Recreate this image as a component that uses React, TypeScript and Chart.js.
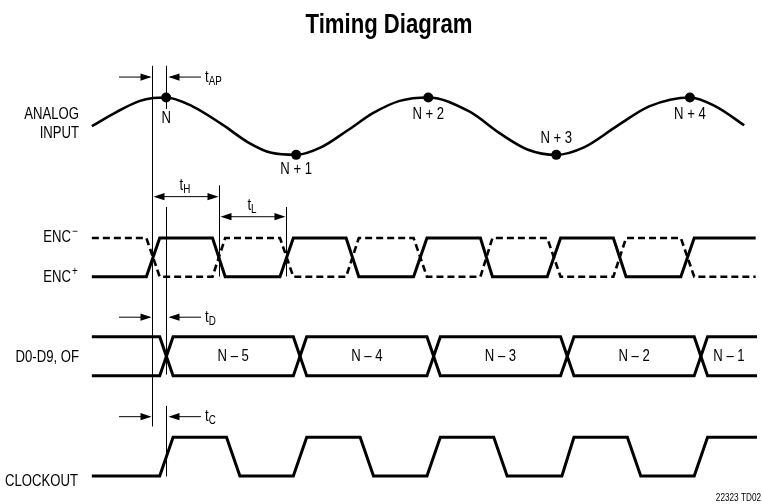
import React, { useEffect, useRef } from "react";
import { Chart, registerables } from "chart.js";

Chart.register(...registerables);

// ---- DATA (time axis in tenths of one ENC period; ENC+ crosses mid-level at t = 0) ----
const analogTimes = [-4.58, -2.71, -0.98, 0, 0.98, 2.95, 5.17, 7.14, 8.86, 10.71, 12.56, 14.52, 16.49, 18.46, 20.6, 23.63, 26.05, 28.06, 30.18, 32.25, 34.71, 37.13, 40.18, 42.1, 44.24];
const analogValues = [0, 0.5, 0.88, 0.98, 1, 0.69, 0.06, -0.57, -0.93, -1, -0.74, -0.16, 0.46, 0.88, 1, 0.52, -0.28, -0.82, -1, -0.74, 0, 0.69, 1, 0.69, 0.03];

const sampleTimes = [0.98, 10.71, 20.6, 30.18, 40.18];
const sampleValues = [1, -1, 1, -1, 1];
const sampleLabels = ["N", "N + 1", "N + 2", "N + 3", "N + 4"];

const encTimes = [-4.58, -0.5, 0.5, 4.45, 5.4, 9.5, 10.5, 14.45, 15.4, 19.5, 20.5, 24.5, 25.4, 29.5, 30.5, 34.45, 35.4, 39.5, 40.5, 45.1];
const encPlusLevels = [0, 0, 1, 1, 0, 0, 1, 1, 0, 0, 1, 1, 0, 0, 1, 1, 0, 0, 1, 1];
const encMinusLevels = [1, 1, 0, 0, 1, 1, 0, 0, 1, 1, 0, 0, 1, 1, 0, 0, 1, 1, 0, 0];

const busStartTime = -4.58;
const busEndTime = 45.2;
const busCrossTimes = [1.0, 11.0, 21.0, 31.0, 41.0];
const busTransition = 0.5;
const busWords = ["N – 5", "N – 4", "N – 3", "N – 2", "N – 1"];

const clkTimes = [-4.58, 0.5, 1.5, 5.5, 6.5, 10.5, 11.5, 15.5, 16.5, 20.5, 21.5, 25.5, 26.5, 30.6, 31.5, 35.5, 36.5, 40.5, 41.5, 45.2];
const clkLevels = [0, 0, 1, 1, 0, 0, 1, 1, 0, 0, 1, 1, 0, 0, 1, 1, 0, 0, 1, 1];

const laneNames = ["ANALOG\nINPUT", "ENC", "D0-D9, OF", "CLOCKOUT"];

// reference instants (same time units)
const tSampleEdge = -0.07;
const tApertureEnd = 0.98;
const tHighEnd = 4.91;
const tLowEnd = 9.93;

const W = 762;
const H = 504;
const PX_PER_UNIT = 13.54;
const ORIGIN_PX = 150;
const FONT = '"Liberation Sans", Arial, sans-serif';
const NARROW = 0.82;

function lane(loVal: number, loPx: number, hiVal: number, hiPx: number) {
  const s = (loPx - hiPx) / (hiVal - loVal);
  const max = hiVal + hiPx / s;
  const min = max - H / s;
  return { min, max };
}

function pts(xs: number[], ys: number[]) {
  return xs.map((x, i) => ({ x, y: ys[i] }));
}

function busEdge(level: number) {
  const out = [{ x: busStartTime, y: level }];
  busCrossTimes.forEach((c) => {
    out.push({ x: c - busTransition, y: level });
    out.push({ x: c, y: 0.5 });
    out.push({ x: c + busTransition, y: level });
  });
  out.push({ x: busEndTime, y: level });
  return out;
}

// condensed text: Liberation Sans squeezed horizontally
function txt(
  ctx: CanvasRenderingContext2D,
  s: string,
  x: number,
  y: number,
  size: number,
  align: CanvasTextAlign = "left",
  baseline: CanvasTextBaseline = "alphabetic",
  bold = false
) {
  ctx.save();
  ctx.font = `${bold ? "bold " : ""}${size}px ${FONT}`;
  ctx.textAlign = align;
  ctx.textBaseline = baseline;
  ctx.translate(x, y);
  ctx.scale(NARROW, 1);
  ctx.fillText(s, 0, 0);
  ctx.restore();
}
function txtW(ctx: CanvasRenderingContext2D, s: string, size: number) {
  ctx.save();
  ctx.font = `${size}px ${FONT}`;
  const w = ctx.measureText(s).width * NARROW;
  ctx.restore();
  return w;
}

const decorPlugin = {
  id: "timingDecor",
  afterDatasetsDraw(chart: any) {
    const ctx: CanvasRenderingContext2D = chart.ctx;
    const xs = chart.scales.x;
    const yf = chart.scales.yF;
    const ya = chart.scales.yA;
    const yd = chart.scales.yD;
    const X = (t: number) => xs.getPixelForValue(t);
    const Y = (p: number) => yf.getPixelForValue(p);
    ctx.save();
    ctx.fillStyle = "#000";
    ctx.strokeStyle = "#000";

    // title
    txt(ctx, "Timing Diagram", 389, 33, 27, "center", "alphabetic", true);

    // thin reference lines
    ctx.lineWidth = 1;
    const vline = (t: number, a: number, b: number) => {
      const x = Math.round(X(t)) + 0.5;
      ctx.beginPath();
      ctx.moveTo(x, Y(a));
      ctx.lineTo(x, Y(b));
      ctx.stroke();
    };
    vline(tSampleEdge, 62, 430);
    vline(tApertureEnd, 62, 106);
    vline(tApertureEnd, 206, 377);
    vline(tApertureEnd, 409, 481);
    vline(tHighEnd, 184, 277);
    vline(tLowEnd, 206, 277);

    const head = (x: number, y: number, dir: number) => {
      ctx.beginPath();
      ctx.moveTo(x, y);
      ctx.lineTo(x - dir * 11, y - 3.6);
      ctx.lineTo(x - dir * 11, y + 3.6);
      ctx.closePath();
      ctx.fill();
    };
    const hline = (x1: number, x2: number, y: number) => {
      ctx.beginPath();
      ctx.moveTo(x1, y + 0.5);
      ctx.lineTo(x2, y + 0.5);
      ctx.stroke();
    };
    const tLabel = (x: number, y: number, sub: string, align: "left" | "center") => {
      const wt = txtW(ctx, "t", 16);
      const ws = txtW(ctx, sub, 12);
      const x0 = align === "left" ? x : x - (wt + ws) / 2;
      txt(ctx, "t", x0, y, 16);
      txt(ctx, sub, x0 + wt, y + 3, 12);
    };

    // delays pointing inward (tAP, tD, tC)
    const delay = (yPx: number, sub: string) => {
      const xa = Math.round(X(tSampleEdge));
      const xb = Math.round(X(tApertureEnd)) + 1;
      const y = Y(yPx);
      hline(xa - 33, xa - 2, y);
      head(xa - 0.5, y + 0.5, 1);
      hline(xb + 3, xb + 34, y);
      head(xb + 1.5, y + 0.5, -1);
      tLabel(xb + 38, y + 5, sub, "left");
    };
    delay(73, "AP");
    delay(318, "D");
    delay(419.5, "C");

    // widths (tH, tL)
    const span = (t1: number, t2: number, yPx: number, sub: string) => {
      const x1 = Math.round(X(t1)) + 1.5;
      const x2 = Math.round(X(t2)) - 0.5;
      const y = Y(yPx);
      hline(x1 + 5, x2 - 5, y);
      head(x1, y + 0.5, -1);
      head(x2, y + 0.5, 1);
      tLabel((x1 + x2) / 2 - 1, y - 6, sub, "center");
    };
    span(tSampleEdge, tHighEnd, 195, "H");
    span(tHighEnd, tLowEnd, 215.5, "L");

    // sample labels
    const labelOffsets = [21, 14.5, 17.5, -16.5, 17.5];
    sampleTimes.forEach((t, i) => {
      txt(ctx, sampleLabels[i], X(t), ya.getPixelForValue(sampleValues[i]) + labelOffsets[i], 16, "center", "middle");
    });

    // bus words
    const mid = yd.getPixelForValue(0.5);
    busWords.forEach((w, i) => {
      const a = busCrossTimes[i];
      const b = i + 1 < busCrossTimes.length ? busCrossTimes[i + 1] : busEndTime;
      txt(ctx, w, X((a + b) / 2), mid + 0.5, 16, "center", "middle");
    });

    // lane names
    const analogLines = laneNames[0].split("\n");
    txt(ctx, analogLines[0], 79, 115, 16, "right", "middle");
    txt(ctx, analogLines[1], 79, 133.5, 16, "right", "middle");
    txt(ctx, laneNames[2], 79, 358, 16, "right", "middle");
    txt(ctx, laneNames[3], 78, 481.5, 16, "right", "middle");
    txt(ctx, laneNames[1], 71, 238, 16, "right", "middle");
    txt(ctx, laneNames[1], 71, 278, 16, "right", "middle");
    txt(ctx, "−", 72, 232, 12, "left", "middle");
    txt(ctx, "+", 72, 272, 12, "left", "middle");

    // figure id
    txt(ctx, "22323 TD02", 761, 501, 10, "right");
    ctx.restore();
  },
};

export default function App() {
  const ref = useRef<HTMLCanvasElement | null>(null);
  useEffect(() => {
    if (!ref.current) return;
    const lineBase = {
      type: "line" as const,
      borderColor: "#000",
      borderWidth: 3,
      pointRadius: 0,
      tension: 0,
      fill: false,
      clip: false as any,
      borderJoinStyle: "miter" as const,
      borderCapStyle: "butt" as const,
    };
    const chart = new Chart(ref.current, {
      type: "line",
      data: {
        datasets: [
          { ...lineBase, data: pts(analogTimes, analogValues), yAxisID: "yA", borderWidth: 2.6, cubicInterpolationMode: "monotone", borderJoinStyle: "round" },
          { ...lineBase, type: "scatter" as any, data: pts(sampleTimes, sampleValues), yAxisID: "yA", showLine: false, pointRadius: 5, pointBackgroundColor: "#000", pointBorderWidth: 0 },
          { ...lineBase, data: pts(encTimes, encMinusLevels), yAxisID: "yE", borderDash: [7, 4], borderWidth: 2.6 },
          { ...lineBase, data: pts(encTimes, encPlusLevels), yAxisID: "yE" },
          { ...lineBase, data: busEdge(1), yAxisID: "yD" },
          { ...lineBase, data: busEdge(0), yAxisID: "yD" },
          { ...lineBase, data: pts(clkTimes, clkLevels), yAxisID: "yC" },
        ] as any,
      },
      options: {
        responsive: false,
        animation: false,
        devicePixelRatio: 1,
        events: [],
        layout: { padding: 0 },
        plugins: { legend: { display: false }, tooltip: { enabled: false }, title: { display: false } },
        scales: {
          x: { type: "linear", display: false, min: -ORIGIN_PX / PX_PER_UNIT, max: (W - ORIGIN_PX) / PX_PER_UNIT },
          yA: { type: "linear", display: false, ...lane(-1, 152.9, 1, 94.3) },
          yE: { type: "linear", display: false, ...lane(0, 277.3, 1, 237.7) },
          yD: { type: "linear", display: false, ...lane(0, 378.3, 1, 338.5) },
          yC: { type: "linear", display: false, ...lane(0, 480.5, 1, 441) },
          yF: { type: "linear", display: false, min: 0, max: H, reverse: true },
        },
      } as any,
      plugins: [decorPlugin],
    });
    return () => chart.destroy();
  }, []);
  return (
    <div style={{ position: "absolute", left: 0, top: 0, width: W, height: H, background: "#fff" }}>
      <canvas ref={ref} width={W} height={H} style={{ display: "block", width: W, height: H }} />
    </div>
  );
}
